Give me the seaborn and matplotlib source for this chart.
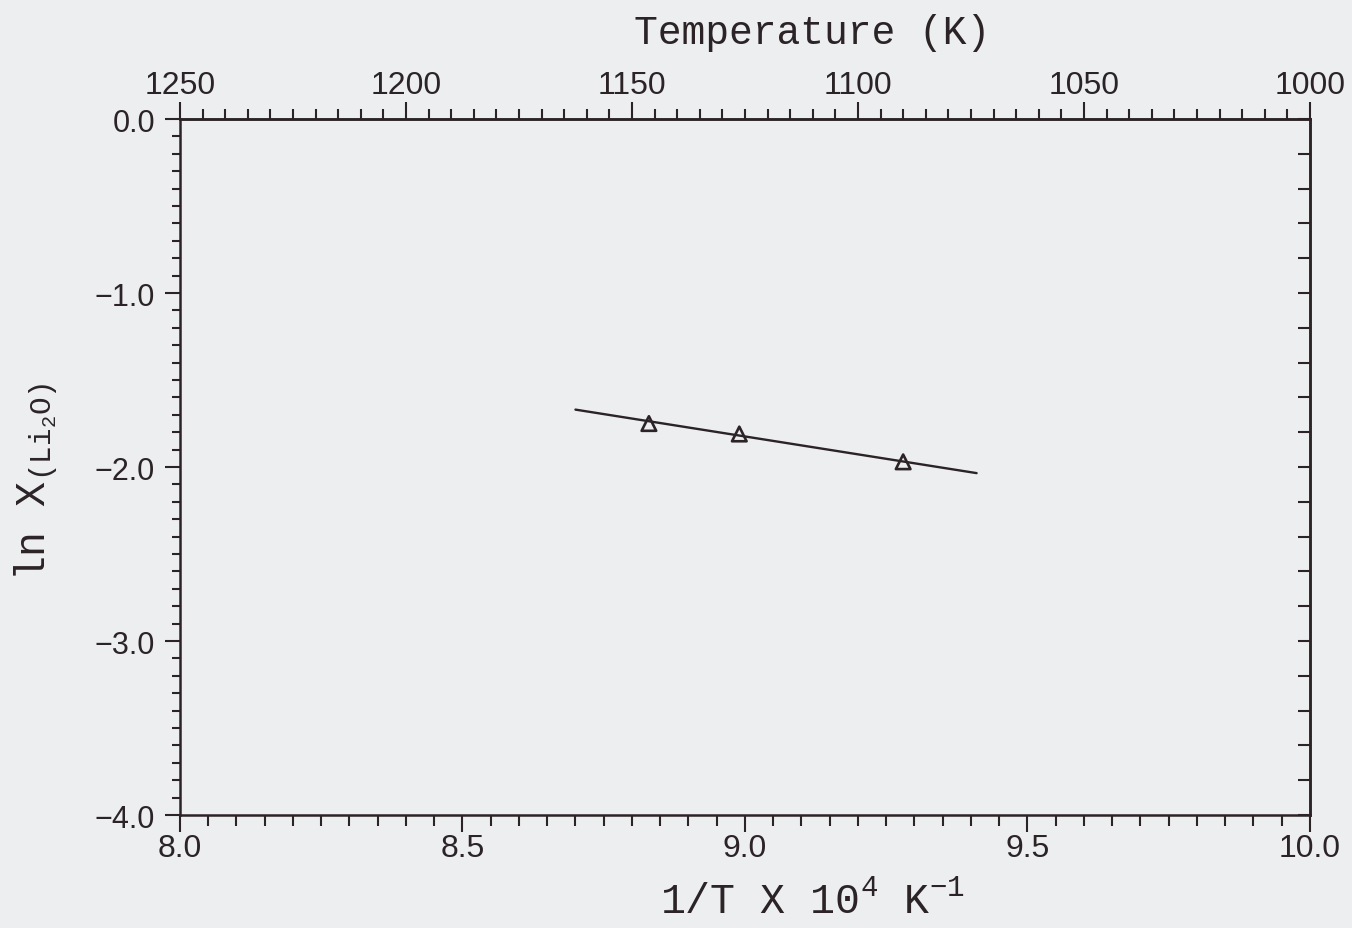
import numpy as np
import matplotlib
matplotlib.use("Agg")
import matplotlib.pyplot as plt
import seaborn as sns
import pandas as pd
from matplotlib.ticker import FixedLocator, MultipleLocator

# ---- data ----
inv_T = [8.83, 8.99, 9.28]            # 1/T x 10^4 (K^-1)
ln_x = [-1.75, -1.81, -1.97]          # ln X(Li2O)
fit_inv_T = [8.70, 9.41]
fit_ln_x = [-1.67, -2.035]
temp_major = [1250, 1200, 1150, 1100, 1050, 1000]
y_ticks = [0.0, -1.0, -2.0, -3.0, -4.0]
x_ticks = [8.0, 8.5, 9.0, 9.5, 10.0]

sns.set_theme(style="ticks")
plt.rcParams["font.family"] = ["Liberation Sans", "DejaVu Sans"]
plt.rcParams["mathtext.fontset"] = "custom"
plt.rcParams["mathtext.rm"] = "Liberation Mono"
plt.rcParams["mathtext.it"] = "Liberation Mono"
plt.rcParams["mathtext.default"] = "rm"

ink = "#2b2326"
bg = "#eceef0"

fig = plt.figure(figsize=(13.52, 9.29), dpi=100, facecolor=bg)
ax = fig.add_axes([0.1331, 0.1216, 0.8358, 0.7492])
ax.set_facecolor(bg)

pts = pd.DataFrame({"x": inv_T, "y": ln_x})
fit = pd.DataFrame({"x": fit_inv_T, "y": fit_ln_x})
sns.lineplot(data=fit, x="x", y="y", ax=ax, color=ink, linewidth=1.7)
sns.scatterplot(data=pts, x="x", y="y", ax=ax, marker="^", s=110,
                facecolor="none", edgecolor=ink, linewidth=1.9, zorder=5)

ax.set_xlim(8.0, 10.0)
ax.set_ylim(-4.0, 0.0)
for s in ax.spines.values():
    s.set_color(ink)
    s.set_linewidth(1.8)

ax.set_xticks(x_ticks)
ax.set_xticklabels([f"{v:.1f}" for v in x_ticks])
ax.xaxis.set_minor_locator(MultipleLocator(0.05))
ax.set_yticks(y_ticks)
ax.set_yticklabels([f"{v:.1f}".replace("-", "\u2212") for v in y_ticks])
ax.yaxis.set_minor_locator(MultipleLocator(0.1))
ax.tick_params(which="major", direction="out", length=12, width=1.5,
               color=ink, labelcolor=ink, top=False, right=False)
ax.tick_params(which="minor", direction="out", length=8, width=1.5,
               color=ink, top=False, right=False)
ax.tick_params(axis="x", which="major", labelsize=23, pad=1)
ax.tick_params(axis="y", which="major", labelsize=22, pad=7, length=11)
ax.tick_params(axis="y", which="minor", length=6)

# right axis: inward ticks every 0.2
sec_y = ax.secondary_yaxis("right")
sec_y.set_yticks(np.arange(-4.0, 0.001, 0.2))
sec_y.tick_params(direction="in", length=9, width=1.5, color=ink,
                  labelright=False)
sec_y.spines["right"].set_color(ink)
sec_y.spines["right"].set_linewidth(1.8)

# top axis: temperature scale (linear, 1250 K at left to 1000 K at right)
def to_temp(v):
    return 1250.0 - 125.0 * (np.asarray(v, dtype=float) - 8.0)

def from_temp(t):
    return 8.0 + (1250.0 - np.asarray(t, dtype=float)) / 125.0

sec_x = ax.secondary_xaxis("top", functions=(to_temp, from_temp))
sec_x.set_xticks(temp_major)
sec_x.set_xticklabels([str(t) for t in temp_major])
sec_x.xaxis.set_minor_locator(FixedLocator(np.arange(1000, 1251, 5)))
sec_x.tick_params(which="major", direction="out", length=12, width=1.5,
                  color=ink, labelsize=23, labelcolor=ink, pad=2)
sec_x.tick_params(which="minor", direction="out", length=7, width=1.5,
                  color=ink)
sec_x.spines["top"].set_color(ink)
sec_x.spines["top"].set_linewidth(1.8)

fig.text(812 / 1352, 1 - 33 / 929, "Temperature (K)", fontsize=28.5,
         color=ink, family="Liberation Mono", ha="center", va="center")

ax.set_xlabel("1/T X 10$^{4}$ K$^{-1}$", fontsize=30, color=ink,
              family="Liberation Mono")
ax.xaxis.set_label_coords((812 - 180) / 1130, -0.095)
ax.set_ylabel("ln X$_{(Li_2O)}$", fontsize=30, color=ink,
              family="Liberation Mono")
ax.yaxis.set_label_coords(-0.106, 0.48)

fig.savefig("out.png", dpi=100, facecolor=bg)
